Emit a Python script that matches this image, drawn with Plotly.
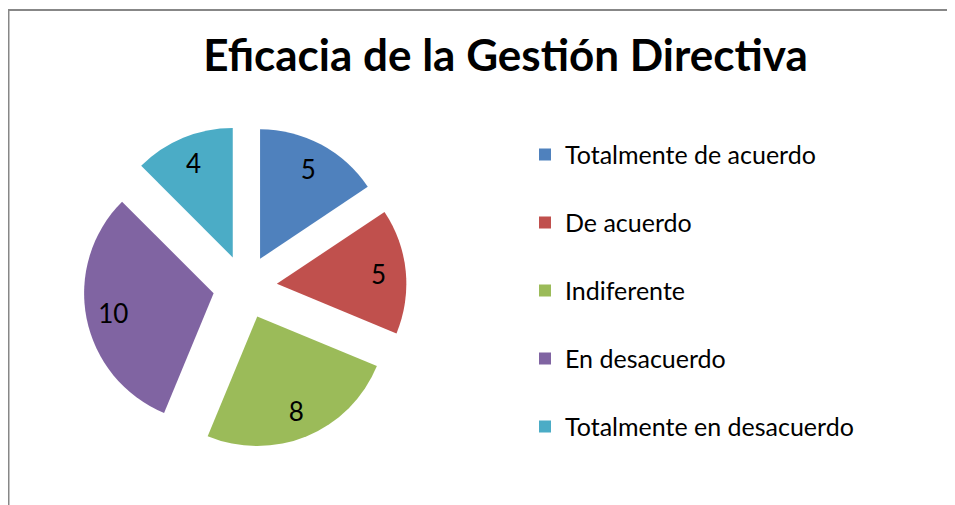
import plotly.graph_objects as go

# ---- data ----
categories = ["Totalmente de acuerdo", "De acuerdo", "Indiferente",
              "En desacuerdo", "Totalmente en desacuerdo"]
values = [5, 5, 8, 10, 4]
colors = ["#4F81BD", "#C0504D", "#9BBB59", "#8064A2", "#4BACC6"]
title_text = "Eficacia de la Gestión Directiva"

# figure size (the page body adds an 8px margin around the figure)
W, H = 947, 497
FONT = "Lato"
PULL = 0.247

# extra blank line in legend entries to reproduce the wide legend spacing
legend_labels = [c + "<br>\u00a0" for c in categories]

domain = dict(x=[75.5 / W, 398.5 / W], y=[56.5 / H, 379.5 / H])

# coloured slices (carry the legend)
pie = go.Pie(
    labels=legend_labels,
    values=values,
    customdata=categories,
    sort=False,
    direction="clockwise",
    rotation=0,
    pull=[PULL] * len(values),
    marker=dict(colors=colors, line=dict(width=0)),
    textinfo="none",
    hovertemplate="%{customdata}: %{value}<extra></extra>",
    domain=domain,
)

# transparent overlay with a hole: only used to place the value labels
# further out in each slice, like the original
labels_pie = go.Pie(
    labels=legend_labels,
    values=values,
    sort=False,
    direction="clockwise",
    rotation=0,
    pull=[PULL] * len(values),
    hole=0.58,
    marker=dict(colors=["rgba(0,0,0,0)"] * len(values), line=dict(width=0)),
    textinfo="value",
    textposition="inside",
    insidetextorientation="horizontal",
    textfont=dict(size=26, color="black", family=FONT),
    hoverinfo="skip",
    showlegend=False,
    domain=domain,
)

fig = go.Figure([pie, labels_pie])

fig.update_layout(
    width=W, height=H,
    margin=dict(l=0, r=0, t=0, b=0),
    paper_bgcolor="white",
    plot_bgcolor="white",
    font=dict(family=FONT, color="black"),
    title=dict(text="<b>" + title_text + "</b>", x=497.5 / W, xanchor="center",
               y=1 - 47.5 / H, yanchor="middle", yref="container", xref="container",
               font=dict(size=44, family=FONT, color="black")),
    legend=dict(x=517 / W, xanchor="left", y=1 - 123.7 / H, yanchor="top",
                font=dict(size=25, family=FONT, color="black"),
                valign="top", bgcolor="rgba(0,0,0,0)", borderwidth=0),
    showlegend=True,
    shapes=[
        dict(type="line", xref="paper", yref="paper",
             x0=0.5 / W, x1=0.5 / W, y0=-0.1, y1=1 - 2 / H,
             line=dict(color="#878787", width=2)),
        dict(type="line", xref="paper", yref="paper",
             x0=0, x1=1.1, y0=1 - 2 / H, y1=1 - 2 / H,
             line=dict(color="#878787", width=2)),
    ],
)

fig.write_html("out.html")
